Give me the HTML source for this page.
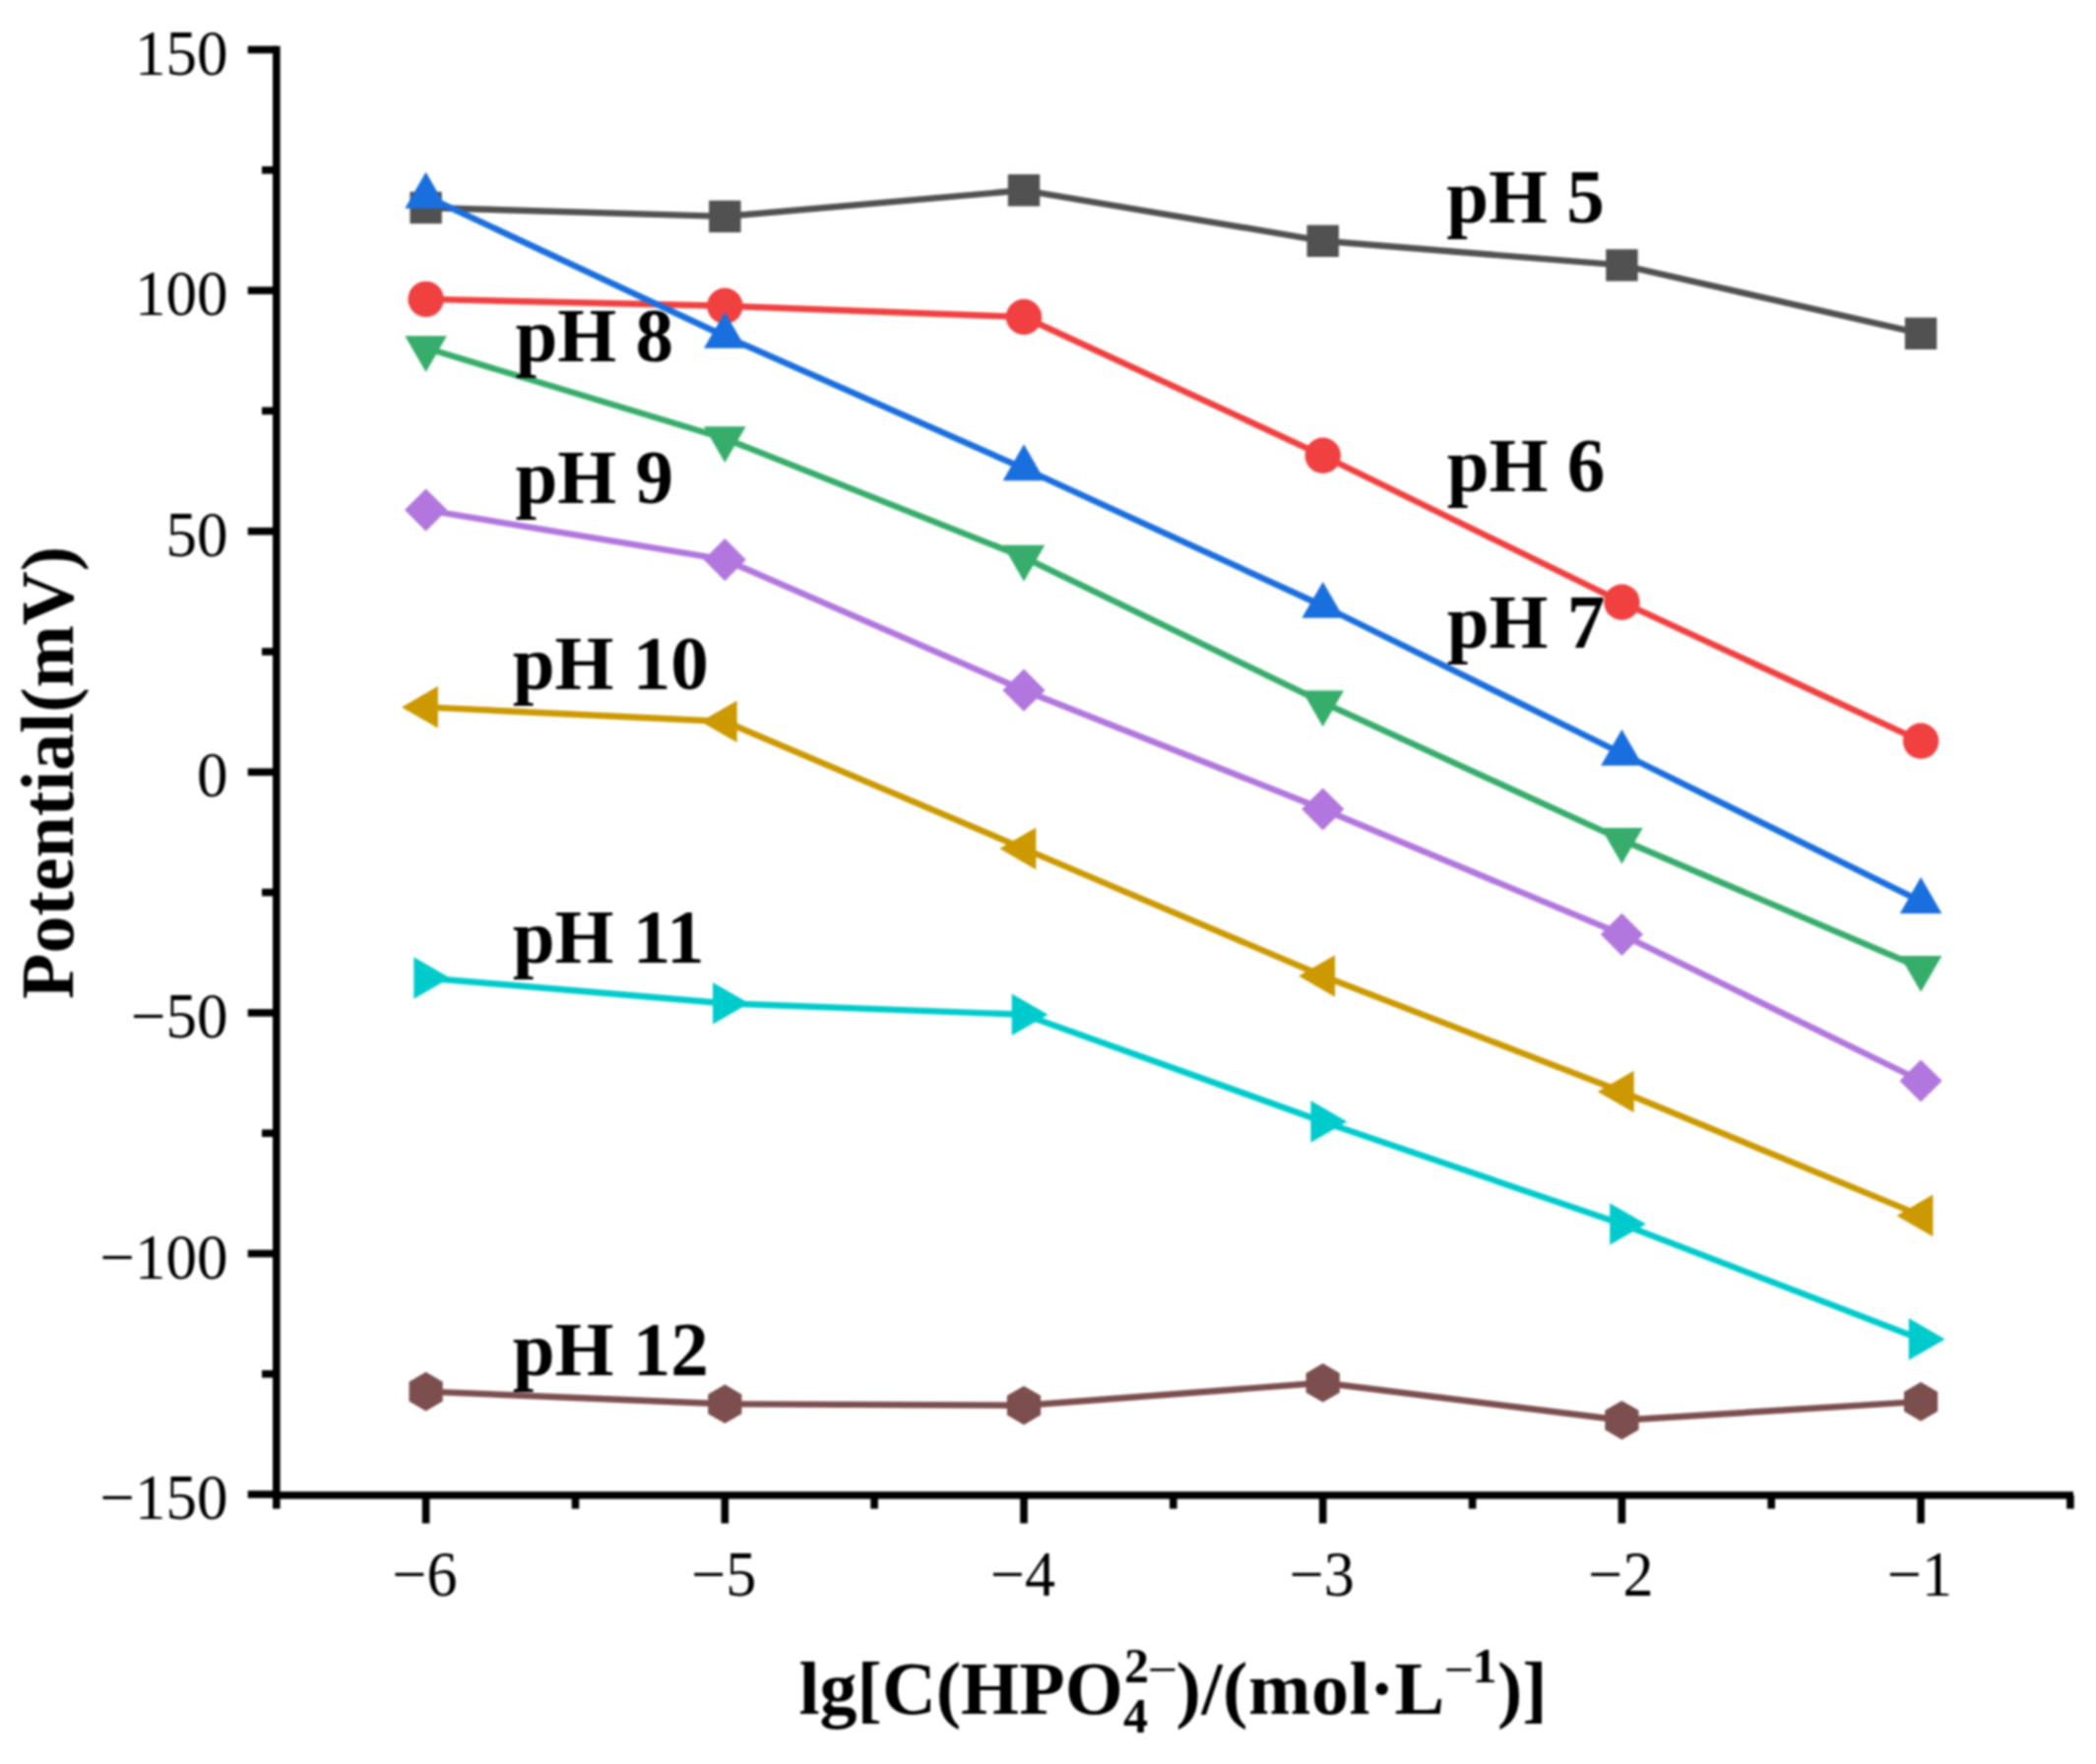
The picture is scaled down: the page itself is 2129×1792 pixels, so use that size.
<!DOCTYPE html>
<html><head><meta charset="utf-8"><title>Potential vs lg C(HPO4 2-)</title>
<style>
html,body{margin:0;padding:0;background:#fff;}
body{width:2129px;height:1792px;overflow:hidden;}
svg{display:block;}
.tk{font-family:"Liberation Serif","Noto Serif CJK SC",serif;font-size:65px;fill:#000;}
.lb{font-family:"Liberation Serif","Noto Serif CJK SC",serif;font-weight:bold;font-size:77px;fill:#000;}
.ax{font-family:"Liberation Serif","Noto Serif CJK SC",serif;font-weight:bold;font-size:76px;fill:#000;}
</style></head><body>
<svg width="2129" height="1792" viewBox="0 0 2129 1792">
<defs><filter id="soft" x="0" y="0" width="2129" height="1792" filterUnits="userSpaceOnUse" color-interpolation-filters="sRGB"><feGaussianBlur stdDeviation="0.9"/></filter></defs>
<rect width="2129" height="1792" fill="#fff"/>
<g filter="url(#soft)">
<g><line x1="280.8" y1="46.7" x2="280.8" y2="1522.8" stroke="#000" stroke-width="7.6"/>
<line x1="277.0" y1="1519.0" x2="2106" y2="1519.0" stroke="#000" stroke-width="7.6"/>
<line x1="251.7" y1="1518.1" x2="280.8" y2="1518.1" stroke="#000" stroke-width="7.6"/>
<line x1="266" y1="1395.8" x2="280.8" y2="1395.8" stroke="#000" stroke-width="7.6"/>
<line x1="251.7" y1="1273.5" x2="280.8" y2="1273.5" stroke="#000" stroke-width="7.6"/>
<line x1="266" y1="1151.2" x2="280.8" y2="1151.2" stroke="#000" stroke-width="7.6"/>
<line x1="251.7" y1="1028.9" x2="280.8" y2="1028.9" stroke="#000" stroke-width="7.6"/>
<line x1="266" y1="906.6" x2="280.8" y2="906.6" stroke="#000" stroke-width="7.6"/>
<line x1="251.7" y1="784.3" x2="280.8" y2="784.3" stroke="#000" stroke-width="7.6"/>
<line x1="266" y1="662.0" x2="280.8" y2="662.0" stroke="#000" stroke-width="7.6"/>
<line x1="251.7" y1="539.7" x2="280.8" y2="539.7" stroke="#000" stroke-width="7.6"/>
<line x1="266" y1="417.4" x2="280.8" y2="417.4" stroke="#000" stroke-width="7.6"/>
<line x1="251.7" y1="295.1" x2="280.8" y2="295.1" stroke="#000" stroke-width="7.6"/>
<line x1="266" y1="172.8" x2="280.8" y2="172.8" stroke="#000" stroke-width="7.6"/>
<line x1="251.7" y1="50.5" x2="280.8" y2="50.5" stroke="#000" stroke-width="7.6"/>
<line x1="280.8" y1="1519.0" x2="280.8" y2="1532.7" stroke="#000" stroke-width="7.6"/>
<line x1="432.6" y1="1519.0" x2="432.6" y2="1547.5" stroke="#000" stroke-width="7.6"/>
<line x1="584.5" y1="1519.0" x2="584.5" y2="1532.7" stroke="#000" stroke-width="7.6"/>
<line x1="736.3" y1="1519.0" x2="736.3" y2="1547.5" stroke="#000" stroke-width="7.6"/>
<line x1="888.1" y1="1519.0" x2="888.1" y2="1532.7" stroke="#000" stroke-width="7.6"/>
<line x1="1040.0" y1="1519.0" x2="1040.0" y2="1547.5" stroke="#000" stroke-width="7.6"/>
<line x1="1191.8" y1="1519.0" x2="1191.8" y2="1532.7" stroke="#000" stroke-width="7.6"/>
<line x1="1343.7" y1="1519.0" x2="1343.7" y2="1547.5" stroke="#000" stroke-width="7.6"/>
<line x1="1495.6" y1="1519.0" x2="1495.6" y2="1532.7" stroke="#000" stroke-width="7.6"/>
<line x1="1647.4" y1="1519.0" x2="1647.4" y2="1547.5" stroke="#000" stroke-width="7.6"/>
<line x1="1799.2" y1="1519.0" x2="1799.2" y2="1532.7" stroke="#000" stroke-width="7.6"/>
<line x1="1951.1" y1="1519.0" x2="1951.1" y2="1547.5" stroke="#000" stroke-width="7.6"/>
<line x1="2102.9" y1="1519.0" x2="2102.9" y2="1532.7" stroke="#000" stroke-width="7.6"/></g>
<polyline points="432.6,211.0 736.3,219.9 1040.0,193.3 1343.7,244.8 1647.4,269.4 1951.1,338.8" fill="none" stroke="#515151" stroke-width="6.4" stroke-linejoin="round"/>
<rect x="416.4" y="194.8" width="32.4" height="32.4" fill="#515151"/>
<rect x="720.1" y="203.7" width="32.4" height="32.4" fill="#515151"/>
<rect x="1023.8" y="177.1" width="32.4" height="32.4" fill="#515151"/>
<rect x="1327.5" y="228.6" width="32.4" height="32.4" fill="#515151"/>
<rect x="1631.2" y="253.2" width="32.4" height="32.4" fill="#515151"/>
<rect x="1934.9" y="322.6" width="32.4" height="32.4" fill="#515151"/>
<polyline points="432.6,303.9 736.3,310.8 1040.0,322.0 1343.7,462.8 1647.4,611.7 1951.1,752.8" fill="none" stroke="#F14040" stroke-width="6.4" stroke-linejoin="round"/>
<circle cx="432.6" cy="303.9" r="18.2" fill="#F14040"/>
<circle cx="736.3" cy="310.8" r="18.2" fill="#F14040"/>
<circle cx="1040.0" cy="322.0" r="18.2" fill="#F14040"/>
<circle cx="1343.7" cy="462.8" r="18.2" fill="#F14040"/>
<circle cx="1647.4" cy="611.7" r="18.2" fill="#F14040"/>
<circle cx="1951.1" cy="752.8" r="18.2" fill="#F14040"/>
<polyline points="432.6,199.4 736.3,341.5 1040.0,475.9 1343.7,615.5 1647.4,765.5 1951.1,915.7" fill="none" stroke="#1A6FDF" stroke-width="6.4" stroke-linejoin="round"/>
<polygon points="432.6,174.8 453.9,211.7 411.3,211.7" fill="#1A6FDF"/>
<polygon points="736.3,316.9 757.6,353.8 715.0,353.8" fill="#1A6FDF"/>
<polygon points="1040.0,451.3 1061.3,488.2 1018.7,488.2" fill="#1A6FDF"/>
<polygon points="1343.7,590.9 1365.0,627.8 1322.4,627.8" fill="#1A6FDF"/>
<polygon points="1647.4,740.9 1668.7,777.8 1626.1,777.8" fill="#1A6FDF"/>
<polygon points="1951.1,891.1 1972.4,928.0 1929.8,928.0" fill="#1A6FDF"/>
<polyline points="432.6,353.5 736.3,445.5 1040.0,566.1 1343.7,713.7 1647.4,853.2 1951.1,983.2" fill="none" stroke="#37AD6B" stroke-width="6.4" stroke-linejoin="round"/>
<polygon points="432.6,378.1 411.3,341.2 453.9,341.2" fill="#37AD6B"/>
<polygon points="736.3,470.1 715.0,433.2 757.6,433.2" fill="#37AD6B"/>
<polygon points="1040.0,590.7 1018.7,553.8 1061.3,553.8" fill="#37AD6B"/>
<polygon points="1343.7,738.3 1322.4,701.4 1365.0,701.4" fill="#37AD6B"/>
<polygon points="1647.4,877.8 1626.1,840.9 1668.7,840.9" fill="#37AD6B"/>
<polygon points="1951.1,1007.8 1929.8,970.9 1972.4,970.9" fill="#37AD6B"/>
<polyline points="432.6,518.1 736.3,568.6 1040.0,701.2 1343.7,822.0 1647.4,949.3 1951.1,1098.0" fill="none" stroke="#B177DE" stroke-width="6.4" stroke-linejoin="round"/>
<polygon points="432.6,496.5 454.2,518.1 432.6,539.7 411.0,518.1" fill="#B177DE"/>
<polygon points="736.3,547.0 757.9,568.6 736.3,590.2 714.7,568.6" fill="#B177DE"/>
<polygon points="1040.0,679.6 1061.6,701.2 1040.0,722.8 1018.4,701.2" fill="#B177DE"/>
<polygon points="1343.7,800.4 1365.3,822.0 1343.7,843.6 1322.1,822.0" fill="#B177DE"/>
<polygon points="1647.4,927.7 1669.0,949.3 1647.4,970.9 1625.8,949.3" fill="#B177DE"/>
<polygon points="1951.1,1076.4 1972.7,1098.0 1951.1,1119.6 1929.5,1098.0" fill="#B177DE"/>
<polyline points="432.6,718.4 736.3,733.0 1040.0,862.1 1343.7,991.5 1647.4,1109.0 1951.1,1234.9" fill="none" stroke="#CC9900" stroke-width="6.4" stroke-linejoin="round"/>
<polygon points="408.0,718.4 444.9,697.1 444.9,739.7" fill="#CC9900"/>
<polygon points="711.7,733.0 748.6,711.7 748.6,754.3" fill="#CC9900"/>
<polygon points="1015.4,862.1 1052.3,840.8 1052.3,883.4" fill="#CC9900"/>
<polygon points="1319.1,991.5 1356.0,970.2 1356.0,1012.8" fill="#CC9900"/>
<polygon points="1622.8,1109.0 1659.7,1087.7 1659.7,1130.3" fill="#CC9900"/>
<polygon points="1926.5,1234.9 1963.4,1213.6 1963.4,1256.2" fill="#CC9900"/>
<polyline points="432.6,993.5 736.3,1019.3 1040.0,1030.7 1343.7,1139.4 1647.4,1243.5 1951.1,1360.4" fill="none" stroke="#00CBCC" stroke-width="6.4" stroke-linejoin="round"/>
<polygon points="457.2,993.5 420.3,1014.8 420.3,972.2" fill="#00CBCC"/>
<polygon points="760.9,1019.3 724.0,1040.6 724.0,998.0" fill="#00CBCC"/>
<polygon points="1064.6,1030.7 1027.7,1052.0 1027.7,1009.4" fill="#00CBCC"/>
<polygon points="1368.3,1139.4 1331.4,1160.7 1331.4,1118.1" fill="#00CBCC"/>
<polygon points="1672.0,1243.5 1635.1,1264.8 1635.1,1222.2" fill="#00CBCC"/>
<polygon points="1975.7,1360.4 1938.8,1381.7 1938.8,1339.1" fill="#00CBCC"/>
<polyline points="432.6,1413.6 736.3,1426.3 1040.0,1427.7 1343.7,1404.8 1647.4,1442.7 1951.1,1423.9" fill="none" stroke="#7D4E4E" stroke-width="6.4" stroke-linejoin="round"/>
<polygon points="432.6,1393.8 449.7,1403.7 449.7,1423.5 432.6,1433.4 415.5,1423.5 415.5,1403.7" fill="#7D4E4E"/>
<polygon points="736.3,1406.5 753.4,1416.4 753.4,1436.2 736.3,1446.1 719.2,1436.2 719.2,1416.4" fill="#7D4E4E"/>
<polygon points="1040.0,1407.9 1057.1,1417.8 1057.1,1437.6 1040.0,1447.5 1022.9,1437.6 1022.9,1417.8" fill="#7D4E4E"/>
<polygon points="1343.7,1385.0 1360.8,1394.9 1360.8,1414.7 1343.7,1424.6 1326.6,1414.7 1326.6,1394.9" fill="#7D4E4E"/>
<polygon points="1647.4,1422.9 1664.5,1432.8 1664.5,1452.6 1647.4,1462.5 1630.3,1452.6 1630.3,1432.8" fill="#7D4E4E"/>
<polygon points="1951.1,1404.1 1968.2,1414.0 1968.2,1433.8 1951.1,1443.7 1934.0,1433.8 1934.0,1414.0" fill="#7D4E4E"/>
<text class="tk" transform="translate(231.5,1543.1) scale(0.97,1)" text-anchor="end">−150</text>
<text class="tk" transform="translate(231.5,1298.5) scale(0.97,1)" text-anchor="end">−100</text>
<text class="tk" transform="translate(231.5,1053.9) scale(0.97,1)" text-anchor="end">−50</text>
<text class="tk" transform="translate(231.5,809.3) scale(0.97,1)" text-anchor="end">0</text>
<text class="tk" transform="translate(231.5,564.7) scale(0.97,1)" text-anchor="end">50</text>
<text class="tk" transform="translate(231.5,320.1) scale(0.97,1)" text-anchor="end">100</text>
<text class="tk" transform="translate(231.5,75.5) scale(0.97,1)" text-anchor="end">150</text>
<text class="tk" transform="translate(431.6,1621.4) scale(0.955,1)" text-anchor="middle">−6</text>
<text class="tk" transform="translate(735.3,1621.4) scale(0.955,1)" text-anchor="middle">−5</text>
<text class="tk" transform="translate(1039.0,1621.4) scale(0.955,1)" text-anchor="middle">−4</text>
<text class="tk" transform="translate(1342.7,1621.4) scale(0.955,1)" text-anchor="middle">−3</text>
<text class="tk" transform="translate(1646.4,1621.4) scale(0.955,1)" text-anchor="middle">−2</text>
<text class="tk" transform="translate(1950.1,1621.4) scale(0.955,1)" text-anchor="middle">−1</text>
<text class="lb" transform="translate(1469.3,225.6) scale(1,1.03)" xml:space="preserve">pH 5</text>
<text class="lb" transform="translate(1469.8,498.6) scale(1,1.03)" xml:space="preserve">pH 6</text>
<text class="lb" transform="translate(1469.8,657.6) scale(1,1.03)" xml:space="preserve">pH 7</text>
<text class="lb" transform="translate(523.5,367.3) scale(1,1.03)" xml:space="preserve">pH 8</text>
<text class="lb" transform="translate(523.5,511) scale(1,1.03)" xml:space="preserve">pH 9</text>
<text class="lb" transform="translate(520.8,699.6) scale(1,1.03)" xml:space="preserve">pH 10</text>
<text class="lb" transform="translate(520.8,978) scale(1,1.03)" xml:space="preserve">pH 11</text>
<text class="lb" transform="translate(520.8,1396.5) scale(1,1.03)" xml:space="preserve">pH 12</text>
<text class="ax" transform="translate(74,785) rotate(-90)" text-anchor="middle">Potential(mV)</text>
<text class="ax" font-size="76"><tspan x="811.5" y="1740.8">lg[C(HPO</tspan><tspan font-size="50" x="1141" y="1760.4">4</tspan><tspan font-size="50" x="1142" y="1708.6">2</tspan><tspan font-size="54" font-weight="normal" x="1165.5" y="1713.5">−</tspan><tspan x="1194.5" y="1740.8" letter-spacing="0.6">)/(mol</tspan><tspan x="1391" y="1740.8">·</tspan><tspan x="1416.5" y="1740.8">L</tspan><tspan font-size="54" font-weight="normal" x="1466.5" y="1713.5">−</tspan><tspan font-size="50" x="1495.5" y="1709.2">1</tspan><tspan x="1521" y="1740.8">)]</tspan></text>
</g></svg></body></html>
